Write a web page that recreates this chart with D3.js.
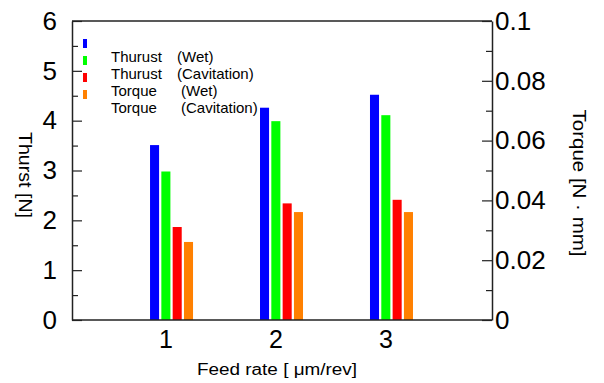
<!DOCTYPE html>
<html>
<head>
<meta charset="utf-8">
<script src="https://cdn.jsdelivr.net/npm/d3@7"></script>
<style>
  body { margin: 0; background: #fff; }
  svg { font-family: "Liberation Sans", Arial, sans-serif; }
</style>
</head>
<body>
<div id="chart"></div>
<script>
// values
const feedRates = [1, 2, 3];
const thrustWet = [3.51, 4.26, 4.52];
const thrustCav = [2.98, 3.99, 4.11];
const torqueWet = [0.0311, 0.0390, 0.0402];
const torqueCav = [0.0261, 0.0361, 0.0361];
const seriesNames = ["Thurust", "Thurust", "Torque", "Torque"];
const seriesCond = ["(Wet)", "(Cavitation)", "(Wet)", "(Cavitation)"];
const seriesColors = ["#0000ff", "#00ff00", "#ff0000", "#ff8000"];
const leftTicks = [0, 1, 2, 3, 4, 5, 6];
const rightTicks = [0, 0.02, 0.04, 0.06, 0.08, 0.1];

const width = 604, height = 383;
const plotL = 72, plotR = 492, plotT = 21, plotB = 320;

const svg = d3.select("#chart").append("svg")
    .attr("width", width).attr("height", height);

const x = d3.scaleLinear().domain([0.145, 3.964]).range([plotL, plotR]);
const yL = d3.scaleLinear().domain([0, 6]).range([plotB, plotT]);
const yR = d3.scaleLinear().domain([0, 0.1]).range([plotB, plotT]);
const sub = d3.scaleBand().domain(d3.range(4)).range([-16, 27]).paddingInner(0.2);

// each series with the axis it belongs to
const series = [
    { vals: thrustWet, y: yL },
    { vals: thrustCav, y: yL },
    { vals: torqueWet, y: yR },
    { vals: torqueCav, y: yR }
];

// bars
series.forEach((s, si) => {
    svg.append("g").selectAll("rect")
        .data(s.vals)
        .join("rect")
        .attr("x", (d, i) => x(feedRates[i]) + sub(si))
        .attr("width", sub.bandwidth())
        .attr("y", d => s.y(d))
        .attr("height", d => plotB - s.y(d))
        .attr("fill", seriesColors[si]);
});

const axisColor = "#222";

// frame: top and bottom lines
svg.append("line").attr("x1", plotL).attr("x2", plotR).attr("y1", plotT).attr("y2", plotT)
    .attr("stroke", axisColor).attr("stroke-width", 1.5);
svg.append("line").attr("x1", plotL).attr("x2", plotR).attr("y1", plotB).attr("y2", plotB)
    .attr("stroke", axisColor).attr("stroke-width", 1.5);

function styleAxis(g) {
    g.select(".domain").attr("stroke", axisColor).attr("stroke-width", 1.5);
    g.selectAll(".tick line").attr("stroke", axisColor).attr("stroke-width", 1.2);
    g.selectAll(".tick text").attr("fill", "#000").style("font-size", "26px");
}

// left axis
svg.append("g").attr("transform", `translate(${plotL},0)`)
    .call(d3.axisLeft(yL).tickValues(leftTicks).tickFormat(d3.format("d"))
        .tickSizeInner(-10).tickSizeOuter(0).tickPadding(15))
    .call(styleAxis);
svg.append("g").attr("transform", `translate(${plotL},0)`)
    .call(d3.axisLeft(yL).tickValues(leftTicks.slice(0, -1).map(d => d + 0.5)).tickFormat("")
        .tickSizeInner(-6).tickSizeOuter(0))
    .call(g => g.select(".domain").remove())
    .call(styleAxis);

// right axis
svg.append("g").attr("transform", `translate(${plotR},0)`)
    .call(d3.axisRight(yR).tickValues(rightTicks).tickFormat(d => d === 0 ? "0" : String(+d.toFixed(2)))
        .tickSizeInner(-10).tickSizeOuter(0).tickPadding(3))
    .call(styleAxis);
svg.append("g").attr("transform", `translate(${plotR},0)`)
    .call(d3.axisRight(yR).tickValues(rightTicks.slice(0, -1).map(d => d + 0.01)).tickFormat("")
        .tickSizeInner(-6).tickSizeOuter(0))
    .call(g => g.select(".domain").remove())
    .call(styleAxis);

// x tick labels (no tick marks)
svg.append("g").selectAll("text")
    .data(feedRates)
    .join("text")
    .attr("x", d => x(d))
    .attr("y", 348)
    .attr("text-anchor", "middle")
    .style("font-size", "25px")
    .text(d => d);

// axis titles
svg.append("text")
    .attr("transform", "translate(19,175) rotate(90)")
    .attr("text-anchor", "middle")
    .attr("textLength", 86).attr("lengthAdjust", "spacingAndGlyphs")
    .style("font-size", "18px")
    .text("Thurst [N]");
svg.append("text")
    .attr("transform", "translate(573,183) rotate(90)")
    .attr("text-anchor", "middle")
    .attr("textLength", 147).attr("lengthAdjust", "spacingAndGlyphs")
    .style("font-size", "18px")
    .text("Torque [N · mm]");
svg.append("text")
    .attr("x", 277).attr("y", 375)
    .attr("text-anchor", "middle")
    .attr("textLength", 160).attr("lengthAdjust", "spacingAndGlyphs")
    .style("font-size", "16px")
    .text("Feed rate [ μm/rev]");

// legend (text sits one row below its swatch, as in the original)
const lg = svg.append("g");
seriesNames.forEach((name, i) => {
    lg.append("rect")
        .attr("x", 83).attr("y", 39 + i * 17)
        .attr("width", 4).attr("height", 9)
        .attr("fill", seriesColors[i]);
    lg.append("text")
        .attr("x", 111).attr("y", 62 + i * 17)
        .style("font-size", "15px")
        .text(name);
    lg.append("text")
        .attr("x", i < 2 ? 177 : 181).attr("y", 62 + i * 17)
        .style("font-size", "15px")
        .text(seriesCond[i]);
});
</script>
</body>
</html>
